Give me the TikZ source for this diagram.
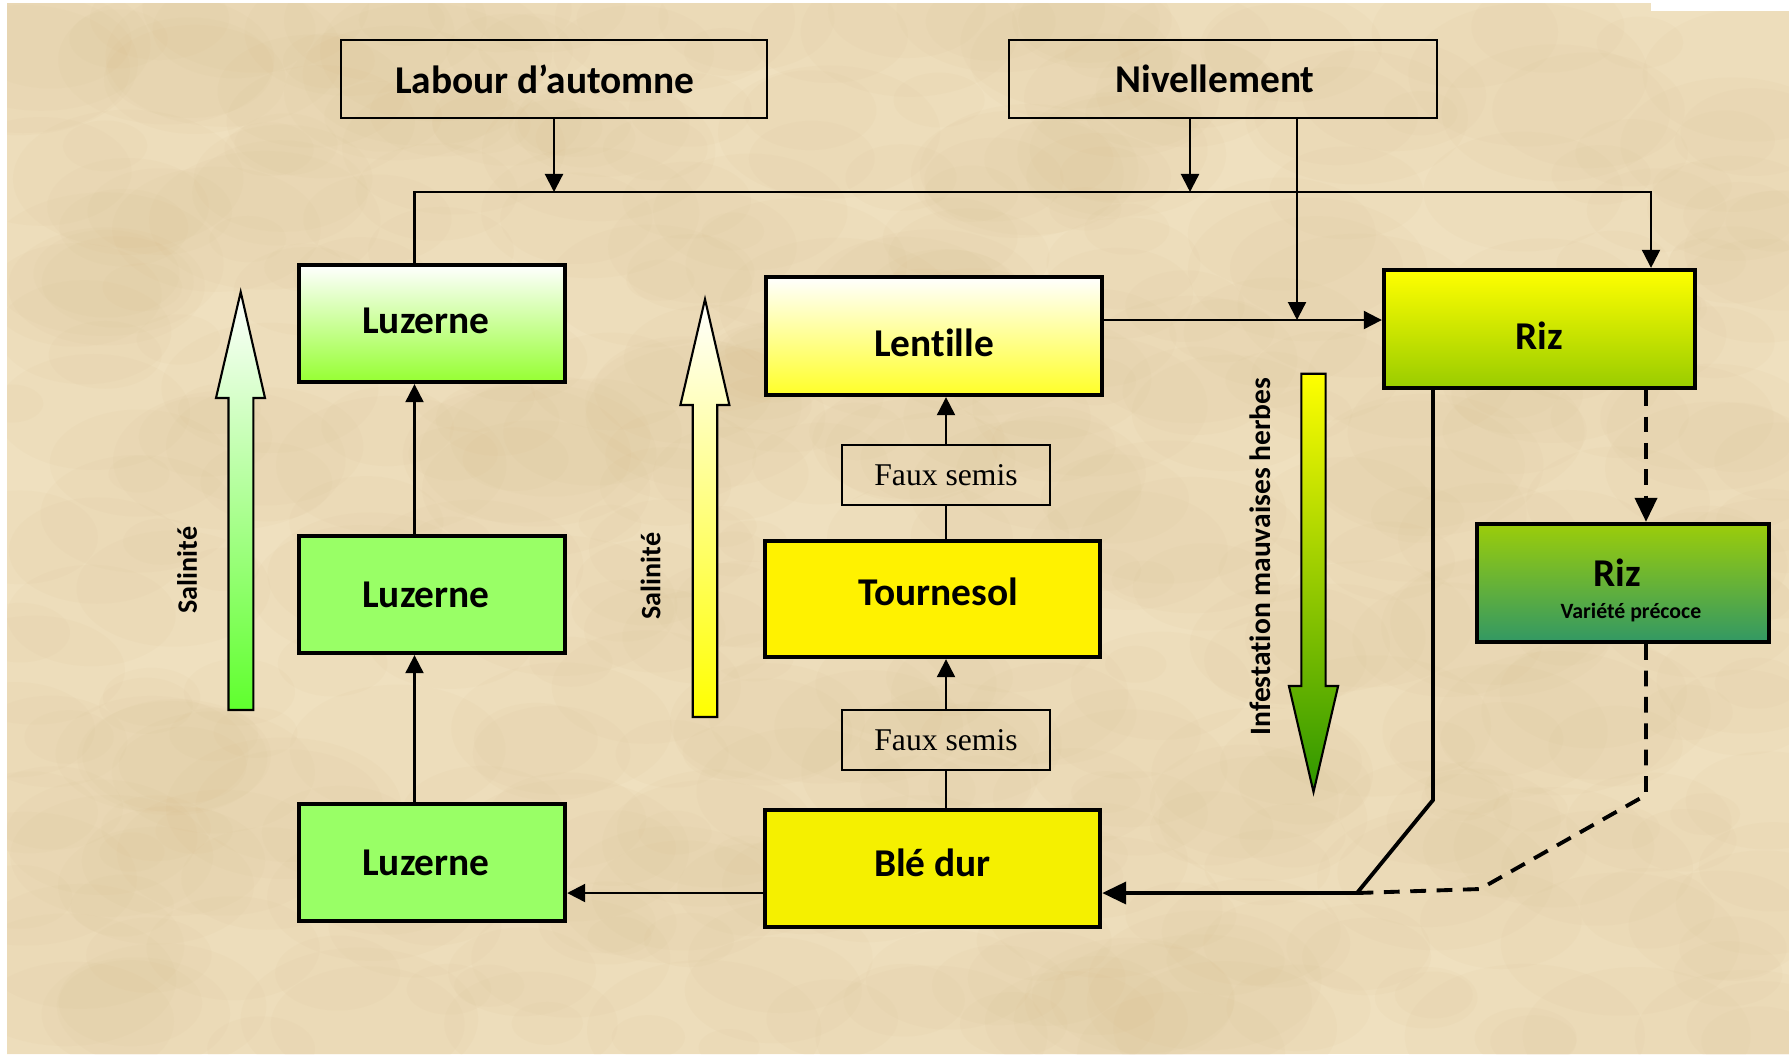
\documentclass[tikz,border=0pt]{standalone}
\usepackage{fontspec}
\setmainfont{Carlito}[Ligatures=NoCommon]
\newfontfamily\seriffont{Liberation Serif}
\usepackage{xcolor}
\usetikzlibrary{arrows.meta}

\definecolor{parchment}{RGB}{239,224,191}
\definecolor{parchdark}{RGB}{205,170,115}
\definecolor{luzgreen}{RGB}{153,255,102}
\definecolor{luztop}{RGB}{150,255,50}
\definecolor{lentyellow}{RGB}{255,255,40}
\definecolor{blejaune}{RGB}{245,240,0}
\definecolor{rizgreen}{RGB}{153,204,0}
\definecolor{rizlight}{RGB}{155,205,10}
\definecolor{rizdark}{RGB}{50,152,100}
\definecolor{salgreen}{RGB}{95,255,45}
\definecolor{herbgreen}{RGB}{45,150,0}

\begin{document}
\begin{tikzpicture}[x=0.01cm,y=-0.01cm,
    crop/.style={draw=black,line width=1.2pt,inner sep=0pt,minimum width=2.66cm,minimum height=1.17cm,font=\fontsize{11.2}{13}\selectfont\bfseries},
    work/.style={draw=black,line width=0.6pt,inner sep=0pt,minimum height=0.78cm,font=\fontsize{11.2}{13}\selectfont\bfseries},
    semis/.style={draw=black,line width=0.6pt,inner sep=0pt,minimum width=2.08cm,minimum height=0.6cm,font=\seriffont\fontsize{9}{11}\selectfont},
    lowtext/.style={text height=12pt,text depth=0.3pt},
    conn/.style={line width=0.6pt},
    strong/.style={line width=1.1pt},
    dashconn/.style={line width=1.1pt,dash pattern=on 4.5pt off 3pt},
    tip/.style={-{Triangle[length=0.18cm,width=0.18cm]}},
    bigtip/.style={-{Triangle[length=0.24cm,width=0.22cm]}},
    sal/.style={font=\fontsize{8}{10}\selectfont\bfseries}]

    % Background
    \useasboundingbox (0,0) rectangle (1789,1054);
    \fill[white] (0,0) rectangle (1789,1054);
    \fill[parchment] (7,3) rectangle (1789,1054);
    \begin{scope}
      \clip (7,3) rectangle (1789,1054);
      \pgfmathsetseed{42}
      \foreach \i in {1,...,500}{
        \pgfmathsetmacro{\bx}{7+rnd*1782}
        \pgfmathsetmacro{\by}{3+rnd*1051}
        \pgfmathsetmacro{\br}{0.3+rnd*0.9}
        \pgfmathsetmacro{\bry}{0.6*\br}
        \fill[parchdark,opacity=0.045] (\bx,\by) ellipse [x radius=\br cm,y radius=\bry cm];
      }
    \end{scope}
    \fill[white] (1651,0) rectangle (1789,11);

    % Top boxes
    \node[work,minimum width=4.26cm] (labour) at (554,79) {Labour d’automne\hspace*{0.18cm}};
    \node[work,minimum width=4.28cm] (niv) at (1223,79) {Nivellement\hspace*{0.16cm}};

    % Left column
    \node[crop,text height=8pt,text depth=2.2pt,top color=white,bottom color=luztop] (luz1) at (432,323.5) {Luzerne\hspace*{0.12cm}};
    \node[crop,fill=luzgreen] (luz2) at (432,594.5) {Luzerne\hspace*{0.12cm}};
    \node[crop,fill=luzgreen] (luz3) at (432,862.5) {Luzerne\hspace*{0.12cm}};

    % Middle column
    \node[crop,lowtext,minimum width=3.36cm,minimum height=1.18cm,top color=white,bottom color=lentyellow] (lent) at (934,336) {Lentille};
    \node[crop,text height=7pt,text depth=3.1pt,minimum width=3.35cm,minimum height=1.16cm,fill=yellow] (tour) at (932.5,599) {\hspace*{0.11cm}Tournesol};
    \node[crop,text height=7.5pt,text depth=2.9pt,minimum width=3.35cm,minimum height=1.17cm,fill=blejaune] (ble) at (932.5,868.5) {Blé dur};
    \node[semis] (fs1) at (946,474.7) {Faux semis};
    \node[semis] (fs2) at (946,740) {Faux semis};

    % Right column
    \node[crop,lowtext,minimum width=3.11cm,minimum height=1.18cm,top color=yellow,bottom color=rizgreen] (riz) at (1539.5,329) {Riz};
    \node[crop,minimum width=2.92cm,minimum height=1.18cm,top color=rizlight,bottom color=rizdark,align=center,text height=21pt,text depth=1pt] (riz2) at (1623,583) {Riz\hspace*{0.11cm}\\[-4pt]{\fontsize{6.2}{7}\selectfont\hspace*{0.16cm}Variété précoce}};

    % Junctions
    \coordinate (jl) at (414.5,192);
    \coordinate (jr) at (1651,192);
    \coordinate (jn) at (1190,192);
    \coordinate (jm) at (1297,320);
    \coordinate (jb) at (1357,893);
    \coordinate (rs) at (1433,800);
    \coordinate (rd) at (1646,795);
    \coordinate (re) at (1480,889);

    % Connectors
    \draw[conn,tip] (labour.south) -- (labour.south |- jl);
    \draw[conn,tip] (niv.south -| jn) -- (jn);
    \draw[conn,tip] (niv.south -| jm) -- (jm);
    \draw[conn,tip] (jl |- luz1.north) -- (jl) -- (jr) -- (jr |- riz.north);
    \draw[conn,tip] (jm -| lent.east) -- (jm -| riz.west);
    \draw[conn,tip] (jl |- luz3.north) -- (jl |- luz2.south);
    \draw[conn,tip] (jl |- luz2.north) -- (jl |- luz1.south);
    \draw[conn] (fs2.south |- ble.north) -- (fs2.south);
    \draw[conn,tip] (fs2.north) -- (fs2.north |- tour.south);
    \draw[conn] (fs1.south |- tour.north) -- (fs1.south);
    \draw[conn,tip] (fs1.north) -- (fs1.north |- lent.south);
    \draw[conn,tip] (jb -| ble.west) -- (jb -| luz3.east);
    \draw[strong,bigtip] (rs |- riz.south) -- (rs) -- (jb) -- (jb -| ble.east);
    \draw[dashconn,bigtip] (rd |- riz.south) -- (rd |- riz2.north);
    \draw[dashconn] (rd |- riz2.south) -- (rd) -- (re) -- (jb);

    % Salinity arrows
    \draw[line width=0.6pt,top color=white,bottom color=salgreen] (228.5,710) -- (228.5,398) -- (216,398) -- (240.7,292) -- (265,398) -- (253.3,398) -- (253.3,710) -- cycle;
    \node[sal,rotate=90] (sal1) at (187,570) {Salinité};
    \draw[line width=0.6pt,top color=white,bottom color=yellow] (692.7,717) -- (692.7,405) -- (680.4,405) -- (705,299.3) -- (729.4,405) -- (717.2,405) -- (717.2,717) -- cycle;
    \node[sal,rotate=90] (sal2) at (650.6,576) {Salinité};

    % Weeds arrow
    \draw[line width=0.6pt,top color=yellow,bottom color=herbgreen] (1301.4,373.7) -- (1325.6,373.7) -- (1325.6,686) -- (1338.1,686) -- (1313.5,792) -- (1288.9,686) -- (1301.4,686) -- cycle;
    \node[rotate=90,font=\fontsize{8.4}{10}\selectfont\bfseries] (herb) at (1260.5,556.6) {Infestation mauvaises herbes};

\end{tikzpicture}
\end{document}
